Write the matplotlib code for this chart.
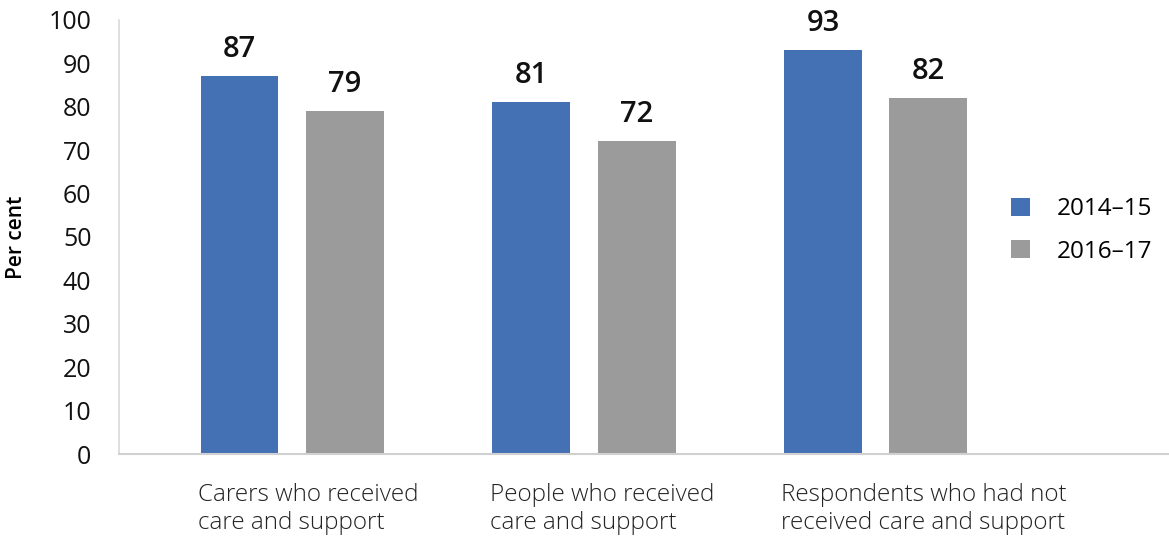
import numpy as np
import matplotlib.pyplot as plt

plt.rcParams['font.family'] = ['Open Sans', 'DejaVu Sans']

# Donnees
categories = ["Carers who received\ncare and support",
              "People who received\ncare and support",
              "Respondents who had not\nreceived care and support"]
series = ["2014\u201315", "2016\u201317"]
val_2014 = [87, 81, 93]
val_2016 = [79, 72, 82]

couleurs = ["#4470b4", "#9b9b9b"]
x = np.arange(len(categories))
larg = 0.267
dec = 0.18

fig = plt.figure(figsize=(11.69, 5.38), dpi=100)
ax = fig.add_axes([0.102, 0.156, 0.897, 0.807])

for vals, d, c, lab in zip([val_2014, val_2016], [-dec, dec], couleurs, series):
    barres = ax.bar(x + d, vals, width=larg, color=c, label=lab)
    for b, v in zip(barres, vals):
        ax.text(b.get_x() + b.get_width() / 2, v + 2.8, str(v),
                ha="center", va="bottom", fontsize=21, fontweight="semibold",
                color="#111111")

ax.set_xlim(-0.592, 3.0)
ax.set_ylim(0, 100)
ax.set_yticks(range(0, 101, 10))
ax.tick_params(axis="y", length=0, labelsize=18, pad=20, labelcolor="#111111")
ax.tick_params(axis="x", length=0)
ax.set_xticks(x - dec - larg / 2 - 0.01)
ax.set_xticklabels(categories, ha="left", fontsize=17.5, color="#222222",
                   fontweight="light", linespacing=1.2)
ax.tick_params(axis="x", pad=21)

for s in ["top", "right"]:
    ax.spines[s].set_visible(False)
ax.spines["left"].set_color("#d9d9d9")
ax.spines["bottom"].set_color("#d0d0d0")
ax.spines["left"].set_linewidth(1.2)
ax.spines["bottom"].set_linewidth(1.5)

ax.set_ylabel("Per cent", fontsize=15, fontweight="semibold")
ax.yaxis.set_label_coords(-0.088, 0.5)

ax.legend(loc="center left", bbox_to_anchor=(0.83, 0.515), frameon=False,
          fontsize=17.5, handlelength=0.75, handleheight=0.75, handletextpad=1.1,
          labelspacing=0.75)

fig.savefig("out.png", dpi=100)
